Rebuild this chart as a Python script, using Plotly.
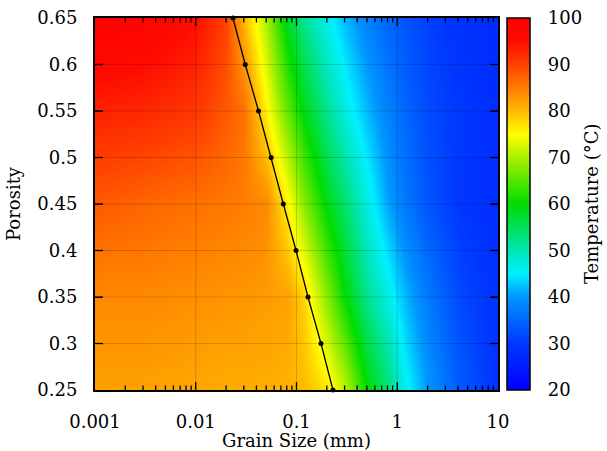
import numpy as np
import plotly.graph_objects as go

# ---- data ----
grain_size = [0.001, 0.003, 0.01, 0.02, 0.03, 0.05, 0.08, 0.12, 0.2, 0.3, 0.5, 0.8, 1.2, 2, 4, 10]
porosity_rows = [0.25, 0.35, 0.45, 0.55, 0.65]
temp_p025 = [82, 82, 81.5, 81, 81, 81, 80.5, 80, 77, 71, 60, 54, 46, 40, 34, 29]
temp_p035 = [84, 84, 83.5, 83, 83, 82.5, 82, 78, 68, 60, 52, 47, 42, 37, 32, 29]
temp_p045 = [88, 87, 86, 85.5, 85, 84, 76, 68, 59, 54, 47, 41, 37, 33, 30, 28]
temp_p055 = [93, 92.5, 91, 88, 86, 76, 66, 59, 52, 47, 42, 38, 35, 32, 30, 28]
temp_p065 = [99, 98, 95, 90, 80, 70, 58, 52, 46, 42, 38, 35, 33, 31, 29, 28]

line_porosity = [0.25, 0.30, 0.35, 0.40, 0.45, 0.50, 0.55, 0.60, 0.65]
line_grain = [0.23, 0.175, 0.13, 0.099, 0.074, 0.056, 0.042, 0.031, 0.0234]

x_ticks = [0.001, 0.01, 0.1, 1, 10]
x_ticklabels = ["0.001", "0.01", "0.1", "1", "10"]
y_ticks = [0.25, 0.3, 0.35, 0.4, 0.45, 0.5, 0.55, 0.6, 0.65]
y_ticklabels = ["0.25", "0.3", "0.35", "0.4", "0.45", "0.5", "0.55", "0.6", "0.65"]
cb_ticks = [20, 30, 40, 50, 60, 70, 80, 90, 100]

z = [temp_p025, temp_p035, temp_p045, temp_p055, temp_p065]

colorscale = [
    [0.0, "rgb(0,0,255)"],
    [0.125, "rgb(0,55,255)"],
    [0.25, "rgb(0,150,255)"],
    [0.3125, "rgb(0,240,255)"],
    [0.375, "rgb(0,230,180)"],
    [0.5, "rgb(0,220,0)"],
    [0.625, "rgb(170,240,0)"],
    [0.6875, "rgb(255,255,0)"],
    [0.75, "rgb(255,185,0)"],
    [0.8125, "rgb(255,125,0)"],
    [0.875, "rgb(255,65,0)"],
    [0.94, "rgb(255,10,0)"],
    [1.0, "rgb(255,0,0)"],
]

FONT = "DejaVu Serif"
FS = 18
PLOT_W = 607 - 95 - 109
PLOT_H = 451 - 18 - 61

minor_x = [k * 10.0 ** d for d in range(-3, 1) for k in range(2, 10)]

fig = go.Figure()
fig.add_trace(go.Heatmap(
    x=grain_size, y=porosity_rows, z=z,
    zmin=20, zmax=100, zsmooth="best",
    colorscale=colorscale,
    colorbar=dict(
        x=1.022, xanchor="left", xpad=0, y=0, yanchor="bottom", ypad=0,
        len=1, lenmode="fraction", thickness=23,
        outlinecolor="black", outlinewidth=1.5,
        tickvals=cb_ticks, ticks="outside", ticklen=14, tickcolor="rgba(0,0,0,0)",
        tickfont=dict(family=FONT, size=FS, color="black"),
    ),
    showscale=True,
))

fig.add_trace(go.Scatter(
    x=line_grain, y=line_porosity, mode="lines+markers",
    line=dict(color="black", width=1.3),
    marker=dict(color="black", size=5),
    cliponaxis=False, showlegend=False,
))

fig.update_layout(
    width=607, height=451,
    margin=dict(l=95, r=109, t=18, b=61, autoexpand=False),
    paper_bgcolor="white", plot_bgcolor="white",
    font=dict(family=FONT, size=FS, color="black"),
    xaxis=dict(
        type="log", range=[np.log10(0.001), np.log10(10)],
        tickvals=x_ticks, ticktext=x_ticklabels,
        ticks="inside", ticklen=7, tickcolor="black", tickwidth=1.2,
        ticklabelstandoff=14, automargin=False,
        mirror="allticks", showline=True, linecolor="black", linewidth=2,
        showgrid=False, zeroline=False,
        title=dict(text="Grain Size (mm)", standoff=2, font=dict(family=FONT, size=FS)),
        tickfont=dict(family=FONT, size=FS),
    ),
    yaxis=dict(
        range=[0.25, 0.65],
        tickvals=y_ticks, ticktext=y_ticklabels,
        ticks="inside", ticklen=7, tickcolor="black", tickwidth=1.2,
        ticklabelstandoff=12, automargin=False,
        mirror="allticks", showline=True, linecolor="black", linewidth=2,
        showgrid=False, zeroline=False,
        title=dict(text="Porosity", standoff=12, font=dict(family=FONT, size=FS)),
        tickfont=dict(family=FONT, size=FS),
    ),
    annotations=[dict(
        text="Temperature (°C)", textangle=-90, xref="paper", yref="paper",
        x=(591 - 95) / PLOT_W, y=0.5, xanchor="center", yanchor="middle",
        showarrow=False, font=dict(family=FONT, size=FS, color="black"),
    )],
)

GRID = "rgba(0,0,0,0.16)"
TICK = dict(color="black", width=1.3)
# grid lines drawn over the colour field
for xv in x_ticks[1:-1]:
    fig.add_shape(type="line", xref="x", yref="paper", x0=xv, x1=xv, y0=0, y1=1,
                  line=dict(color=GRID, width=1), layer="above")
for yv in y_ticks[1:-1]:
    fig.add_shape(type="line", xref="paper", yref="y", x0=0, x1=1, y0=yv, y1=yv,
                  line=dict(color=GRID, width=1), layer="above")

# major and minor log ticks on bottom and top edges
for vals, plen in ((x_ticks[1:-1], 8), (minor_x, 4.5)):
    l = plen / PLOT_H
    for xv in vals:
        for y0, y1 in ((0, l), (1 - l, 1)):
            fig.add_shape(type="line", xref="x", yref="paper", x0=xv, x1=xv, y0=y0, y1=y1,
                          line=TICK, layer="above")
# major ticks on left and right edges
lx = 8 / PLOT_W
for yv in y_ticks[1:-1]:
    for x0, x1 in ((0, lx), (1 - lx, 1)):
        fig.add_shape(type="line", xref="paper", yref="y", x0=x0, x1=x1, y0=yv, y1=yv,
                      line=TICK, layer="above")

# tick marks on both sides of the colour bar
cb_left = 1.022
cb_right = 1.022 + 23 / PLOT_W
for t in cb_ticks[1:-1]:
    yy = (t - 20) / 80
    for x0, x1 in ((cb_left, cb_left + 5 / PLOT_W), (cb_right - 5 / PLOT_W, cb_right)):
        fig.add_shape(type="line", xref="paper", yref="paper",
                      x0=x0, x1=x1, y0=yy, y1=yy,
                      line=dict(color="black", width=1.2))

fig.write_html("out.html")
